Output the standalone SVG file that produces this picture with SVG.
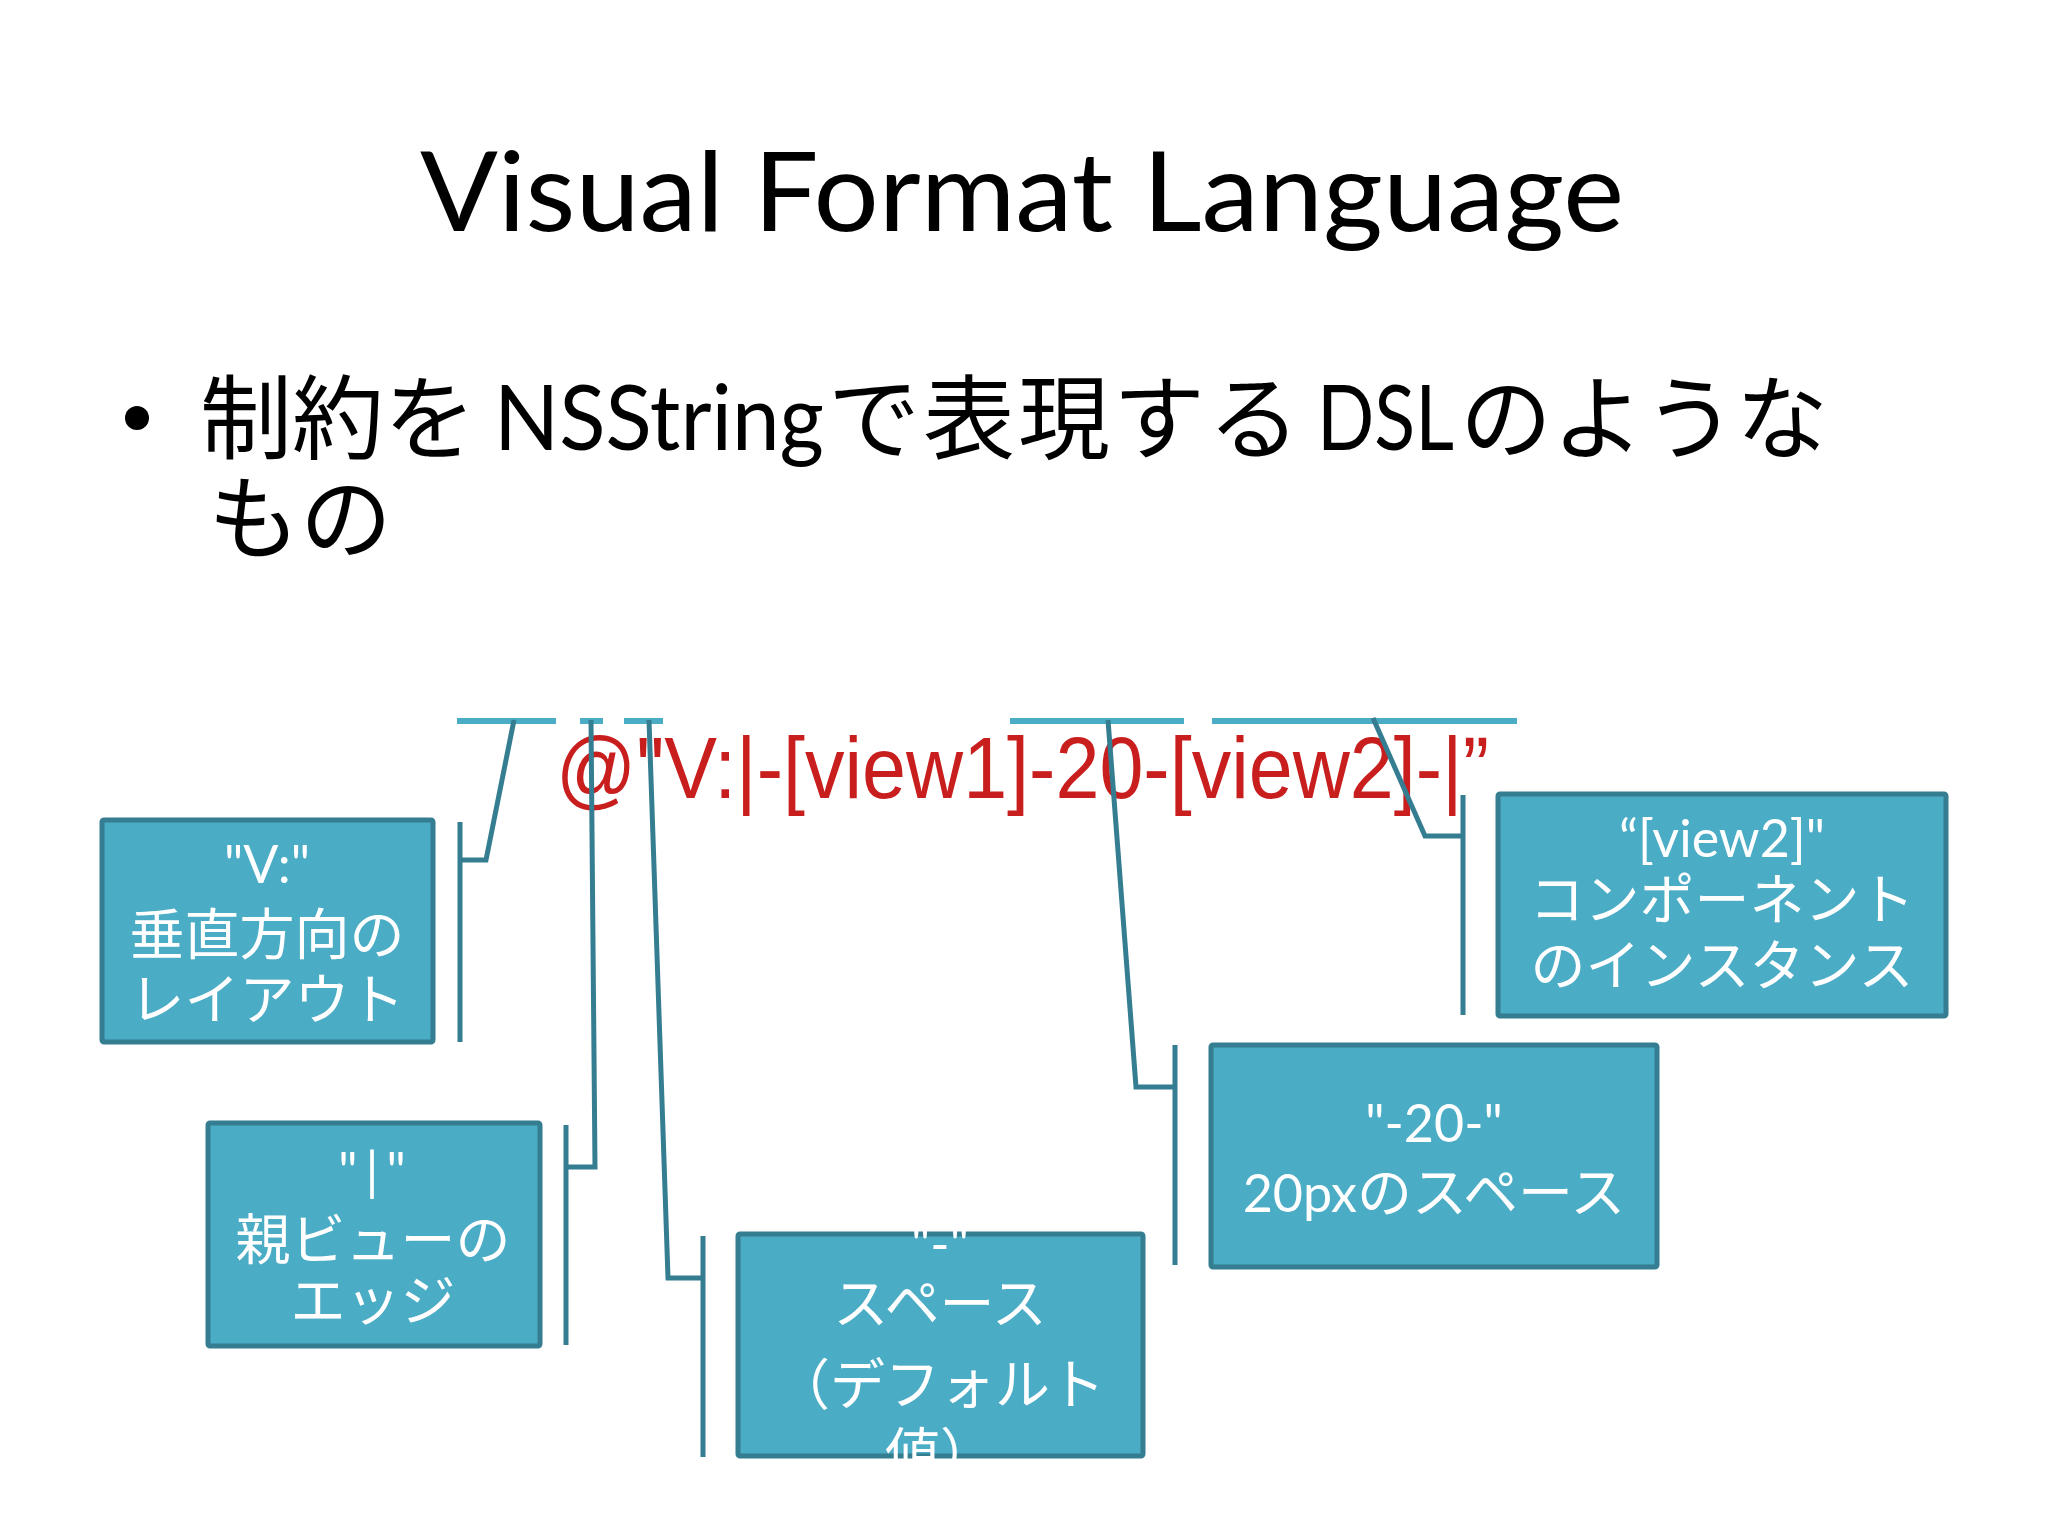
<svg xmlns="http://www.w3.org/2000/svg" width="2048" height="1536" viewBox="0 0 2048 1536">
  <style>
    .title { font-family: Lato, "Open Sans", "Noto Sans CJK JP", sans-serif; font-size: 110px; fill: #000; }
    .bul { font-family: Lato, "Noto Sans CJK JP", sans-serif; font-size: 92px; fill: #000; }
    .cjk { font-family: "Noto Sans CJK JP", sans-serif; }
    .code { font-family: "Liberation Sans", Arial, sans-serif; font-size: 88px; fill: #c81e1e; }
    .box { fill: #4bacc6; stroke: #357d91; stroke-width: 5; stroke-linejoin: round; }
    .lbl { font-family: Lato, "Noto Sans CJK JP", sans-serif; font-size: 52px; fill: #fff; text-anchor: middle; }
    .jp { font-family: "Noto Sans CJK JP", sans-serif; font-size: 55px; fill: #fff; text-anchor: middle; }
    .bar { stroke: #4bacc6; stroke-width: 6; fill: none; }
    .con { stroke: #357d91; stroke-width: 5; fill: none; stroke-linejoin: miter; }
  </style>
  <rect x="0" y="0" width="2048" height="1536" fill="#ffffff"/>

  <text class="title" x="420" y="231" textLength="1204" lengthAdjust="spacingAndGlyphs">Visual Format Language</text>

  <g id="bullet">
    <circle cx="137" cy="418" r="12" fill="#000"/>
    <text class="bul" y="452"><tspan class="cjk" x="200">制約を</tspan><tspan x="494" y="450" textLength="330" lengthAdjust="spacingAndGlyphs">NSString</tspan><tspan class="cjk" x="828" y="452" letter-spacing="3">で表現する</tspan><tspan x="1317" y="450" textLength="137" lengthAdjust="spacingAndGlyphs">DSL</tspan><tspan class="cjk" x="1460" y="452">のような</tspan></text>
    <text class="bul cjk" x="208" y="552">もの</text>
  </g>

  <g id="bars">
    <line class="bar" x1="457" y1="721" x2="556" y2="721"/>
    <line class="bar" x1="580" y1="721" x2="603" y2="721"/>
    <line class="bar" x1="624" y1="721" x2="663" y2="721"/>
    <line class="bar" x1="1010" y1="721" x2="1184" y2="721"/>
    <line class="bar" x1="1212" y1="721" x2="1517" y2="721"/>
  </g>

  <text id="code" class="code" x="556" y="798" textLength="933" lengthAdjust="spacingAndGlyphs">@"V:|-[view1]-20-[view2]-|”</text>

  <g id="node-v">
    <rect class="box" x="102" y="820" width="331" height="222" rx="2"/>
    <text class="lbl" x="267" y="883">"V:"</text>
    <text class="jp" x="267" y="954">垂直方向の</text>
    <text class="jp" x="267" y="1019">レイアウト</text>
  </g>

  <g id="node-edge">
    <rect class="box" x="208" y="1123" width="332" height="223" rx="2"/>
    <text class="lbl" x="376" y="1190" letter-spacing="8">"|"</text>
    <text class="jp" x="373" y="1259">親ビューの</text>
    <text class="jp" x="373" y="1320">エッジ</text>
  </g>

  <g id="node-space">
    <rect class="box" x="738" y="1234" width="405" height="222" rx="2"/>
    <text class="lbl" x="940" y="1263">"-"</text>
    <text class="jp" x="940" y="1323">スペース</text>
    <text class="jp" x="940" y="1404">（デフォルト</text>
    <text class="jp" x="940" y="1473">値）</text>
  </g>

  <g id="node-20">
    <rect class="box" x="1211" y="1045" width="446" height="222" rx="2"/>
    <text class="lbl" x="1434" y="1142">"-20-"</text>
    <text class="lbl" x="1434" y="1212">20px<tspan class="cjk" font-size="55">のスペース</tspan></text>
  </g>

  <g id="node-view2">
    <rect class="box" x="1498" y="794" width="448" height="222" rx="2"/>
    <text class="lbl" x="1722" y="857">“[view2]"</text>
    <text class="jp" x="1722" y="919">コンポーネント</text>
    <text class="jp" x="1722" y="985">のインスタンス</text>
  </g>

  <g id="connectors">
    <polyline class="con" points="514,720 486,860 460,860"/>
    <line class="con" x1="460" y1="822" x2="460" y2="1042"/>
    <polyline class="con" points="591,720 595,1167 566,1167"/>
    <line class="con" x1="566" y1="1125" x2="566" y2="1345"/>
    <polyline class="con" points="649,720 668,1278 703,1278"/>
    <line class="con" x1="703" y1="1236" x2="703" y2="1457"/>
    <polyline class="con" points="1108,720 1136,1087 1175,1087"/>
    <line class="con" x1="1175" y1="1045" x2="1175" y2="1265"/>
    <polyline class="con" points="1373,718 1425,836 1463,836"/>
    <line class="con" x1="1463" y1="795" x2="1463" y2="1015"/>
  </g>
</svg>
